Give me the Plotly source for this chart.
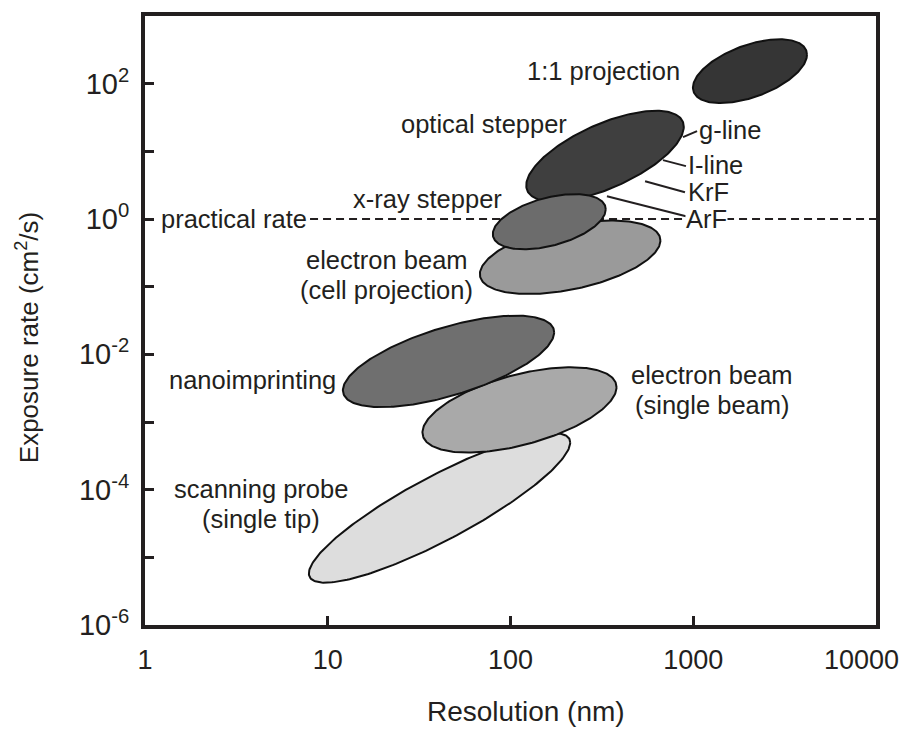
import numpy as np
import plotly.graph_objects as go

# ---------------- data ----------------
techniques = ["electron beam (cell projection)", "optical stepper", "x-ray stepper",
              "1:1 projection", "scanning probe (single tip)",
              "electron beam (single beam)", "nanoimprinting"]
res_center_nm = [212, 329, 163, 2043, 40.9, 112, 45.8]          # resolution (nm)
rate_center = [0.272, 8.5, 0.912, 153, 5.36e-5, 1.51e-3, 7.87e-3]  # cm^2/s
log_res_halfspan = [0.494, 0.431, 0.309, 0.312, 0.715, 0.531, 0.578]   # decades
log_rate_halfspan = [0.543, 0.670, 0.408, 0.472, 1.104, 0.630, 0.676]  # decades
tilt = [0.457, 0.646, 0.448, 0.516, 0.875, 0.531, 0.633]           # correlation

practical_rate = 1.0
practical_rate_res = [8.0, 10000]

x_ticks = [1, 10, 100, 1000, 10000]
x_ticktext = ["1", "10", "100", "1000", "10000"]
y_exponents = [-6, -5, -4, -3, -2, -1, 0, 1, 2]

# leader lines for optical stepper wavelengths: (res, rate) start -> end
leader_labels = ["g-line", "I-line", "KrF", "ArF"]
leader_start_res = [879, 683, 545, 337]
leader_start_rate = [16.2, 7.41, 3.62, 2.17]
leader_end_res = [1049, 912, 901, 912]
leader_end_rate = [19.9, 6.04, 2.49, 1.10]

# ---------------- style ----------------
fills = ["#9a9a9a", "#3f3f3f", "#6c6c6c", "#353535", "#dddddd", "#a9a9a9", "#6f6f6f"]
INK = "#231f20"
FONT = "Liberation Sans, Arial, sans-serif"

fig = go.Figure()

# practical rate dashed line (behind ellipses)
fig.add_trace(go.Scatter(x=practical_rate_res, y=[practical_rate, practical_rate],
                         mode="lines", line=dict(color=INK, width=2, dash="8px,5px"),
                         hoverinfo="skip", showlegend=False))

t = np.linspace(0, 2 * np.pi, 241)
for i, name in enumerate(techniques):
    delta = np.arccos(tilt[i])
    lx = np.log10(res_center_nm[i]) + log_res_halfspan[i] * np.cos(t)
    ly = np.log10(rate_center[i]) + log_rate_halfspan[i] * np.cos(t - delta)
    fig.add_trace(go.Scatter(x=10 ** lx, y=10 ** ly, mode="lines", fill="toself",
                             fillcolor=fills[i], line=dict(color="#111111", width=2),
                             name=name, hoverinfo="name", showlegend=False))

for i in range(len(leader_labels)):
    fig.add_trace(go.Scatter(x=[leader_start_res[i], leader_end_res[i]],
                             y=[leader_start_rate[i], leader_end_rate[i]],
                             mode="lines", line=dict(color=INK, width=2),
                             hoverinfo="skip", showlegend=False))

ANN = 25.5
def txt(text, xl, yl, anchor, bg=None, va="middle"):
    fig.add_annotation(text=text, x=xl, y=yl, xref="x", yref="y", showarrow=False,
                       xanchor=anchor, yanchor=va,
                       font=dict(family=FONT, size=ANN, color=INK),
                       bgcolor=bg, borderpad=0)

txt("1:1 projection", 2.933, 2.187, "right")
txt("optical stepper", 2.315, 1.404, "right")
txt("g-line", 3.026, 1.315, "left")
txt("I-line", 2.966, 0.798, "left")
txt("KrF", 2.966, 0.399, "left")
txt("ArF", 2.955, 0.0, "left", bg="white")
txt("x-ray stepper", 1.959, 0.296, "right")
txt("practical rate", 0.082, 0.0, "left")
txt("electron beam", 1.324, -0.827, "center", va="bottom")
txt("(cell projection)", 1.324, -0.827, "center", va="top")
txt("nanoimprinting", 0.126, -2.379, "left")
txt("electron beam", 3.103, -2.527, "center", va="bottom")
txt("(single beam)", 3.103, -2.527, "center", va="top")
txt("scanning probe", 0.635, -4.219, "center", va="bottom")
txt("(single tip)", 0.635, -4.219, "center", va="top")

# axis titles
fig.add_annotation(text="Exposure rate (cm<sup>2</sup>/s)", xref="paper", yref="paper",
                   x=-0.1614, y=0.471, xanchor="center", yanchor="middle",
                   textangle=-90, showarrow=False,
                   font=dict(family=FONT, size=26, color=INK))
fig.add_annotation(text="Resolution (nm)", xref="paper", yref="paper",
                   x=0.521, y=-0.142, xanchor="center", yanchor="middle",
                   showarrow=False, font=dict(family=FONT, size=28, color=INK))

# last x tick label placed so it stays inside the page
fig.add_annotation(text=x_ticktext[-1], xref="paper", yref="paper",
                   x=1, y=0, xanchor="right", yanchor="middle",
                   xshift=25, yshift=-35, showarrow=False,
                   font=dict(family=FONT, size=27, color=INK))

y_tickvals = [10.0 ** e for e in y_exponents]
y_ticktext = [("10<sup>%d</sup>" % e) if e % 2 == 0 else "" for e in y_exponents]
x_ticktext_shown = x_ticktext[:-1] + [""]

fig.update_xaxes(type="log", range=[0, 4], tickvals=x_ticks, ticktext=x_ticktext_shown,
                 ticks="inside", ticklen=9, tickwidth=3, tickcolor=INK,
                 showline=True, linewidth=4, linecolor=INK, mirror=True,
                 showgrid=False, zeroline=False, ticklabelstandoff=8,
                 automargin=False,
                 tickfont=dict(family=FONT, size=27, color=INK))
fig.update_yaxes(type="log", range=[-6, 3], tickvals=y_tickvals, ticktext=y_ticktext,
                 ticks="inside", ticklen=9, tickwidth=3, tickcolor=INK,
                 showline=True, linewidth=4, linecolor=INK, mirror=True,
                 showgrid=False, zeroline=False, ticklabelstandoff=6,
                 automargin=False,
                 tickfont=dict(family=FONT, size=29, color=INK))

fig.update_layout(width=899, height=721, margin=dict(l=137, r=31, t=8, b=104),
                  paper_bgcolor="white", plot_bgcolor="white",
                  font=dict(family=FONT, color=INK), showlegend=False)

fig.write_html("out.html")
